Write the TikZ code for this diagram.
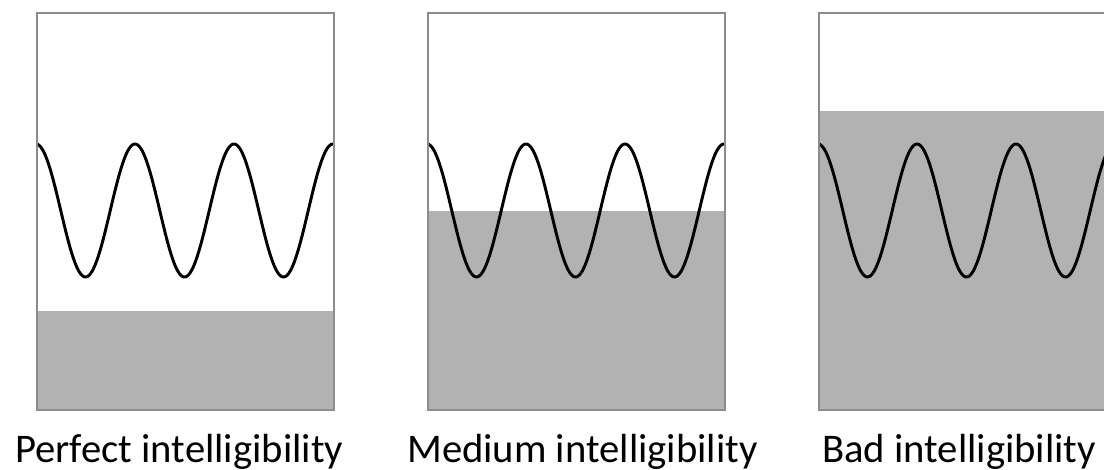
\documentclass[tikz,border=0pt]{standalone}
\usepackage{fontspec}
\setmainfont{Carlito}
\begin{document}
\begin{tikzpicture}[x=0.75pt,y=-0.75pt,
  frame/.style={draw=black!45,line width=1.5pt},
  noise/.style={fill=black!30,draw=none},
  wave/.style={draw=black,line width=2.2pt,line join=round},
  caption/.style={anchor=base west,inner sep=0pt,font=\fontsize{30.5}{36}\selectfont}]
\useasboundingbox[fill=white] (0,0) rectangle (1104,470);
\clip (0,0) rectangle (1104,470);
% panel geometry: left edge, noise level
\foreach \name/\lx/\lvl in {p1/36/311, p2/427/211, p3/818/111}{
  \pgfmathsetmacro{\rx}{\lx+297}
  \fill[noise] (\lx,\lvl) rectangle (\rx,409);
  \begin{scope}
    \clip (\lx,12) rectangle (\rx,409);
    \draw[wave] plot[domain=0:297,samples=240] ({\lx+\x},{210.5-66.5*cos(3.63636*\x)});
  \end{scope}
  \node[frame,inner sep=0pt,minimum width=222.75pt,minimum height=297.75pt,anchor=north west] (\name) at (\lx,12) {};
}
\node[caption] (c1) at (15,462) {Perfect intelligibility};
\node[caption] (c2) at (407,462) {Medium intelligibility};
\node[caption] (c3) at (822,462) {Bad intelligibility};
\end{tikzpicture}
\end{document}
